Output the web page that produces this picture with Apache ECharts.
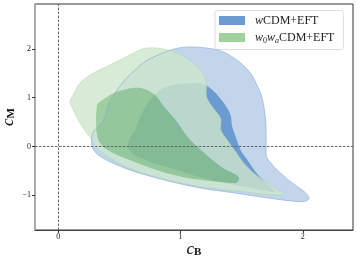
<!DOCTYPE html>
<html><head><meta charset="utf-8">
<script src="https://cdn.jsdelivr.net/npm/echarts@6/dist/echarts.min.js"></script>
<style>html,body{margin:0;padding:0;background:#fff}#c{width:357px;height:262px}</style>
</head><body><div id="c"></div>
<script>
const xTicks = [0, 1, 2];
const yTicks = [-1, 0, 1, 2];
const legendNames = ['wCDM+EFT', 'w0waCDM+EFT'];
const zeroLines = [0, 0];

const blueOuter = [[1.09,2.04],[1.30,1.98],[1.44,1.81],[1.56,1.54],[1.63,1.23],[1.67,0.96],[1.695,0.55],[1.70,0.14],[1.70,-0.17],[1.72,-0.28],[1.79,-0.48],[1.90,-0.72],[2.01,-0.92],[2.05,-1.05],[2.03,-1.11],[1.98,-1.13],[1.85,-1.10],[1.65,-1.03],[1.44,-0.95],[1.16,-0.85],[0.89,-0.70],[0.62,-0.51],[0.43,-0.32],[0.32,-0.16],[0.275,0.02],[0.28,0.25],[0.31,0.37],[0.355,0.48],[0.385,0.62],[0.40,0.78],[0.43,0.97],[0.48,1.15],[0.55,1.38],[0.63,1.57],[0.71,1.74],[0.82,1.88],[0.95,2.00]];

const blueInner = [[0.574,-0.03],[0.574,0.10],[0.596,0.22],[0.629,0.34],[0.684,0.68],[0.752,0.96],[0.861,1.20],[0.998,1.285],[1.135,1.30],[1.203,1.26],[1.272,1.13],[1.354,0.89],[1.408,0.65],[1.422,0.41],[1.450,0.205],[1.491,-0.07],[1.546,-0.27],[1.614,-0.52],[1.688,-0.72],[1.753,-0.87],[1.77,-0.93],[1.704,-0.91],[1.573,-0.85],[1.408,-0.77],[1.162,-0.63],[0.916,-0.44],[0.752,-0.31],[0.654,-0.21],[0.596,-0.11]];

const greenOuter = [[0.725,2.016],[0.807,2.016],[0.916,1.967],[1.025,1.844],[1.135,1.639],[1.195,1.434],[1.212,1.244],[1.212,1.025],[1.258,0.82],[1.327,0.582],[1.33,0.342],[1.381,0.137],[1.45,-0.102],[1.518,-0.34],[1.60,-0.545],[1.71,-0.75],[1.81,-0.91],[1.841,-0.955],[1.805,-0.99],[1.682,-0.975],[1.436,-0.902],[1.162,-0.82],[0.889,-0.682],[0.615,-0.477],[0.424,-0.238],[0.315,-0.033],[0.274,0.137],[0.178,0.48],[0.123,0.752],[0.096,0.922],[0.123,1.059],[0.178,1.299],[0.287,1.504],[0.397,1.639],[0.561,1.844],[0.67,1.982]];

const greenInner = [[0.315,0.82],[0.342,0.922],[0.451,1.094],[0.561,1.176],[0.67,1.197],[0.779,1.08],[0.861,0.82],[0.957,0.547],[1.053,0.205],[1.162,-0.068],[1.327,-0.41],[1.45,-0.58],[1.477,-0.662],[1.458,-0.734],[1.408,-0.744],[1.162,-0.682],[0.889,-0.545],[0.615,-0.307],[0.424,-0.102],[0.342,0.07],[0.315,0.275],[0.309,0.547]];

function smoothPath(p) {
  const n = p.length;
  let d = 'M' + p[0][0].toFixed(2) + ' ' + p[0][1].toFixed(2);
  for (let i = 0; i < n; i++) {
    const p0 = p[(i - 1 + n) % n], p1 = p[i], p2 = p[(i + 1) % n], p3 = p[(i + 2) % n];
    const c1x = p1[0] + (p2[0] - p0[0]) / 6, c1y = p1[1] + (p2[1] - p0[1]) / 6;
    const c2x = p2[0] - (p3[0] - p1[0]) / 6, c2y = p2[1] - (p3[1] - p1[1]) / 6;
    d += 'C' + c1x.toFixed(2) + ' ' + c1y.toFixed(2) + ' ' + c2x.toFixed(2) + ' ' + c2y.toFixed(2) + ' ' + p2[0].toFixed(2) + ' ' + p2[1].toFixed(2);
  }
  return d + 'Z';
}
function area(p) {
  let a = 0;
  for (let i = 0; i < p.length; i++) { const j = (i + 1) % p.length; a += p[i][0] * p[j][1] - p[j][0] * p[i][1]; }
  return a / 2;
}
function region(name, outer, hole, fill, stroke, lw, z) {
  return {
    type: 'custom', name: name, silent: true, z: z, data: outer, encode: { x: 0, y: 1 },
    renderItem: function (params, api) {
      if (params.dataIndex !== 0) return null;
      const o = outer.map(q => api.coord(q));
      let d = smoothPath(o);
      if (hole) {
        let h = hole.map(q => api.coord(q));
        if ((area(o) > 0) === (area(h) > 0)) h = h.slice().reverse();
        d += ' ' + smoothPath(h);
      }
      return { type: 'path', shape: { pathData: d }, style: { fill: fill || 'none', stroke: stroke || 'none', lineWidth: lw || 0 } };
    }
  };
}

const serif = 'Liberation Serif';
const nameRich = {
  c: { fontFamily: serif, fontStyle: 'italic', fontSize: 17, lineHeight: 16, color: '#111' },
  s: { fontFamily: serif, fontWeight: 'bold', fontSize: 11, lineHeight: 6, verticalAlign: 'bottom', color: '#111' }
};

const chart = echarts.init(document.getElementById('c'), null, { renderer: 'canvas' });
chart.setOption({
  animation: false,
  backgroundColor: '#fff',
  grid: { left: 35, right: 4, top: 4, bottom: 32, show: true, borderColor: '#333', borderWidth: 1, containLabel: false, outerBoundsMode: 'none' },
  xAxis: {
    type: 'value', min: -0.19, max: 2.41,
    splitLine: { show: false },
    axisLine: { show: true, onZero: false, lineStyle: { color: '#444', width: 1 } },
    axisTick: { show: true, customValues: xTicks, length: 3, lineStyle: { color: '#333' } },
    axisLabel: { customValues: xTicks, fontFamily: serif, fontSize: 8, color: '#222', margin: 3 },
    name: '{c|c}{s|B}', nameLocation: 'middle', nameGap: 12, nameMoveOverlap: false,
    nameTextStyle: { rich: nameRich }
  },
  yAxis: {
    type: 'value', min: -1.71, max: 2.92,
    splitLine: { show: false },
    axisLine: { show: true, onZero: false, lineStyle: { color: '#aaa', width: 2 } },
    axisTick: { show: true, customValues: yTicks, length: 3, lineStyle: { color: '#333' } },
    axisLabel: { customValues: yTicks, fontFamily: serif, fontSize: 8, color: '#222', margin: 4,
      formatter: v => v < 0 ? '\u2212' + (-v) : String(v) },
    name: '{c|c}{s|M}', nameLocation: 'middle', nameGap: 18, nameMoveOverlap: false,
    nameTextStyle: { rich: nameRich }
  },
  legend: {
    orient: 'vertical', left: 215, top: 10.5,
    icon: 'rect', itemWidth: 26, itemHeight: 9, itemGap: 3,
    padding: [3, 9, 5, 4],
    borderColor: '#ddd', borderWidth: 1, borderRadius: 3, backgroundColor: 'rgba(255,255,255,0.8)',
    data: [
      { name: legendNames[0], itemStyle: { color: '#6b9bd0' } },
      { name: legendNames[1], itemStyle: { color: '#a0d09c' } }
    ],
    formatter: function (n) {
      return n === legendNames[0] ? '{g| }{i|w}CDM+EFT' : '{g| }{i|w}{s|0}{i|w}{si|a}CDM+EFT';
    },
    textStyle: {
      fontFamily: serif, fontSize: 12, color: '#222', lineHeight: 14,
      rich: {
        g: { width: 5, fontSize: 12, lineHeight: 14 },
        i: { fontFamily: serif, fontStyle: 'italic', fontSize: 12, lineHeight: 14, color: '#222' },
        s: { fontFamily: serif, fontSize: 8, lineHeight: 5, verticalAlign: 'bottom', color: '#222' },
        si: { fontFamily: serif, fontStyle: 'italic', fontSize: 8, lineHeight: 5, verticalAlign: 'bottom', color: '#222' }
      }
    }
  },
  series: [
    region(legendNames[0], blueOuter, null, '#c2d5eb', null, 0, 1),
    region(legendNames[0], blueInner, null, '#6b9bd0', null, 0, 2),
    region(legendNames[1], greenOuter, greenInner, 'rgba(205,230,204,0.8)', null, 0, 3),
    region(legendNames[1], greenInner, null, 'rgba(136,195,135,0.8)', null, 0, 4),
    region('blueEdge', blueOuter, null, null, 'rgba(128,168,214,0.75)', 0.8, 5),
    region('greenEdge', greenOuter, null, null, 'rgba(175,212,170,0.7)', 0.7, 5),
    {
      type: 'line', name: 'zero', data: [], silent: true, z: 10,
      markLine: {
        silent: true, symbol: ['none', 'none'], animation: false,
        label: { show: false },
        lineStyle: { type: [2.5, 1.5], color: '#666', width: 1 },
        data: [{ xAxis: zeroLines[0] }, { yAxis: zeroLines[1] }]
      }
    }
  ]
});
</script></body></html>
